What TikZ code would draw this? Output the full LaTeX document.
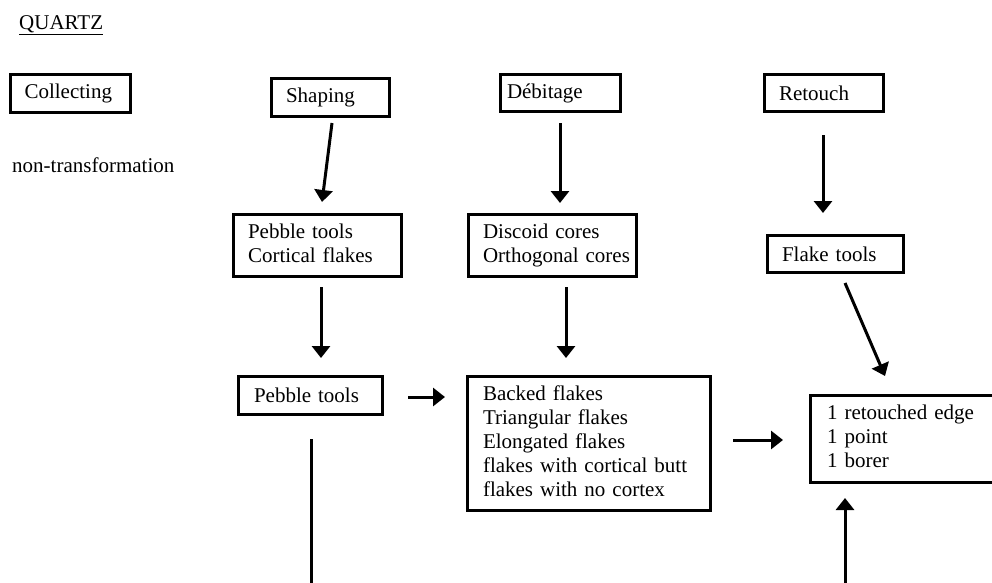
\documentclass[tikz,border=0pt]{standalone}
\usepackage{fontspec}
\setmainfont{Liberation Serif}
\usetikzlibrary{arrows.meta,calc}
\newcommand\boxlines[1]{\begin{tabular}{@{}l@{}}#1\end{tabular}}
\begin{document}
\begin{tikzpicture}[x=1pt,y=-1pt,
  every node/.style={font=\fontsize{21}{24}\selectfont},
  box/.style={draw, line width=3pt, rectangle, align=left, inner ysep=0pt},
  arr/.style={line width=3pt, -{Triangle[width=18pt,length=12pt]}},
  plain/.style={line width=3pt}]
\useasboundingbox (0,0) rectangle (992,582);
% title
\node[anchor=base west, inner sep=0pt] (title) at (19,29) {\underline{QUARTZ}};
% top row
\node[box, minimum width=120pt, minimum height=38pt, text width=92pt, inner xsep=14pt] (collect) at (70.5,93.5) {Collecting};
\node[box, minimum width=118pt, minimum height=38pt, text width=89pt, inner xsep=14.5pt] (shaping) at (330.5,97.5) {Shaping};
\node[box, minimum width=120pt, minimum height=37pt, text width=107pt, inner xsep=6.5pt] (debitage) at (560.5,93) {Débitage};
\node[box, minimum width=119pt, minimum height=37pt, text width=90pt, inner xsep=14.5pt] (retouch) at (824,93) {Retouch};
\node[anchor=base west, inner sep=0pt] (nontr) at (12,172) {non-transformation};
% second row
\node[box, minimum width=168pt, minimum height=62pt, text width=139pt, inner xsep=14.5pt] (pebcort) at (317.5,245.5) {\boxlines{Pebble tools\\Cortical flakes}};
\node[box, minimum width=168pt, minimum height=62pt, text width=139pt, inner xsep=14.5pt] (discoid) at (552.5,245.5) {\boxlines{Discoid cores\\Orthogonal cores}};
\node[box, minimum width=136pt, minimum height=37pt, text width=107pt, inner xsep=14.5pt] (flaketools) at (835.5,254) {Flake tools};
% third row
\node[box, minimum width=144pt, minimum height=38pt, text width=113pt, inner xsep=15.5pt] (pebble) at (310.5,395.5) {Pebble tools};
\node[box, minimum width=243pt, minimum height=134pt, text width=212pt, inner xsep=15.5pt] (backed) at (589,443.5) {\boxlines{Backed flakes\\Triangular flakes\\Elongated flakes\\flakes with cortical butt\\flakes with no cortex}};
\node[box, minimum width=198pt, minimum height=87pt, text width=165pt, inner xsep=16.5pt] (retouched) at (909.5,439) {\boxlines{1 retouched edge\\1 point\\1 borer}};
% free ends
\coordinate (pebbleend) at (311,595);
\coordinate (upstart) at (845,595);
% connectors
\draw[arr] ($(shaping.south)+(1.5,5)$) -- ($(pebcort.north)+(4.5,-11)$);
\draw[arr] ($(debitage.south)+(-0.5,10)$) -- ($(discoid.north)+(7.5,-10)$);
\draw[arr] ($(retouch.south)+(-1,22)$) -- ($(flaketools.north)+(-12.5,-21)$);
\draw[arr] ($(pebcort.south)+(3.5,9)$) -- ($(pebble.north)+(10.5,-17)$);
\draw[arr] ($(discoid.south)+(13.5,9)$) -- ($(backed.north)+(-23,-17)$);
\draw[arr] ($(pebble.east)+(24,1.5)$) -- ($(backed.west)+(-21,-46.5)$);
\draw[arr] ($(backed.east)+(21,-3.5)$) -- ($(retouched.west)+(-26,1)$);
\draw[arr] ($(flaketools.south)+(9.5,9)$) -- ($(retouched.north)+(-24.5,-18)$);
\draw[plain] ($(pebble.south)+(0.5,23)$) -- (pebbleend);
\draw[arr] (upstart) -- ($(retouched.south)+(-64.5,14)$);
\end{tikzpicture}
\end{document}
